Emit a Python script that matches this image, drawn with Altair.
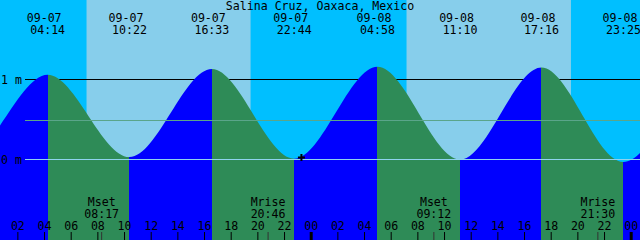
import altair as alt
import pandas as pd

TITLE = "Salina Cruz, Oaxaca, Mexico"

# Tide extremes (the first two and last two are estimated, outside the shown window)
TIDE_DATES = ["09-06", "09-06", "09-07", "09-07", "09-07", "09-07", "09-08", "09-08", "09-08", "09-08", "09-09", "09-09"]
TIDE_TIMES = ["15:50", "22:08", "04:14", "10:22", "16:33", "22:44", "04:58", "11:10", "17:16", "23:25", "05:55", "12:05"]
TIDE_HEIGHTS = [1.05, 0.05, 1.06, 0.03, 1.13, 0.01, 1.16, 0.00, 1.15, -0.03, 1.12, 0.00]
TIDE_LABELED = [False, False, True, True, True, True, True, True, True, True, False, False]

SUN_DATES = ["09-07", "09-07", "09-08", "09-08"]
SUN_TIMES = ["07:09", "19:28", "07:09", "19:29"]

MOON_DATES = ["09-07", "09-07", "09-08", "09-08"]
MOON_TIMES = ["08:17", "20:46", "09:12", "21:30"]
MOON_NAMES = ["Mset", "Mrise", "Mset", "Mrise"]

HOUR_TICKS = [2, 4, 6, 8, 10, 12, 14, 16, 18, 20, 22, 24,
              26, 28, 30, 32, 34, 36, 38, 40, 42, 44, 46, 48]
HOUR_LABELS = ["02", "04", "06", "08", "10", "12", "14", "16", "18", "20", "22", "00",
               "02", "04", "06", "08", "10", "12", "14", "16", "18", "20", "22", "00"]
MIDNIGHTS = [24, 48]

Y_LABEL_VALUES = [1, 0]
Y_LABEL_TEXTS = ["1 m", "0 m"]
MEAN_LEVEL = 0.4875

NOW_DATE, NOW_TIME, NOW_HEIGHT = "09-07", "23:16", 0.025

X_DOMAIN = [0.66, 48.66]          # hours since 09-07 00:00
Y_DOMAIN = [-1.00625, 1.99375]    # metres

NIGHT, DAY = "#00BFFF", "#87CEEB"
RISE, FALL = "#0000FF", "#2E8B57"
FONT, FS = "DejaVu Sans Mono", 11.6


def hours(d, t):
    day = int(d[3:]) - 7
    hh, mm = t.split(":")
    return day * 24 + int(hh) + int(mm) / 60


tide_t = [hours(d, t) for d, t in zip(TIDE_DATES, TIDE_TIMES)]
tide = pd.DataFrame({"t": tide_t, "h": TIDE_HEIGHTS, "date": TIDE_DATES, "time": TIDE_TIMES,
                     "base": [Y_DOMAIN[0]] * len(tide_t)})
tide_lab = tide[pd.Series(TIDE_LABELED)].reset_index(drop=True)

sun_t = [hours(d, t) for d, t in zip(SUN_DATES, SUN_TIMES)]
edges = [tide_t[0]] + sun_t + [tide_t[-1]]
sky = pd.DataFrame({"t": edges[:-1], "t2": edges[1:],
                    "kind": ["night", "day", "night", "day", "night"]})

moon = pd.DataFrame({"t": [hours(d, t) for d, t in zip(MOON_DATES, MOON_TIMES)],
                     "name": MOON_NAMES, "time": MOON_TIMES})
ticks = pd.DataFrame({"t": HOUR_TICKS, "lab": HOUR_LABELS})
mid = pd.DataFrame({"t": MIDNIGHTS})
ylab = pd.DataFrame({"v": Y_LABEL_VALUES, "txt": Y_LABEL_TEXTS})
now = pd.DataFrame({"t": [hours(NOW_DATE, NOW_TIME)], "h": [NOW_HEIGHT]})

# hard-stop gradient: rising = blue, falling = green
span = tide_t[-1] - tide_t[0]
first = RISE if TIDE_HEIGHTS[1] > TIDE_HEIGHTS[0] else FALL
stops = [alt.GradientStop(offset=0.0, color=first)]
for i in range(1, len(tide_t) - 1):
    off = float((tide_t[i] - tide_t[0]) / span)
    before = RISE if TIDE_HEIGHTS[i] > TIDE_HEIGHTS[i - 1] else FALL
    after = FALL if before == RISE else RISE
    stops.append(alt.GradientStop(offset=off, color=before))
    stops.append(alt.GradientStop(offset=off, color=after))
last = RISE if TIDE_HEIGHTS[-1] > TIDE_HEIGHTS[-2] else FALL
stops.append(alt.GradientStop(offset=1.0, color=last))
grad = alt.LinearGradient(gradient="linear", stops=stops, x1=0, y1=0, x2=1, y2=0)

XS = alt.Scale(domain=X_DOMAIN, nice=False, zero=False)
YS = alt.Scale(domain=Y_DOMAIN, nice=False, zero=False)


def X(f):
    return alt.X(f, type="quantitative", scale=XS, axis=None)


def Y(f):
    return alt.Y(f, type="quantitative", scale=YS, axis=None)


sky_l = alt.Chart(sky).mark_rect(clip=True).encode(
    x=X("t"), x2=alt.X2("t2"), y=alt.value(0), y2=alt.value(240),
    color=alt.Color("kind:N", scale=alt.Scale(domain=["night", "day"], range=[NIGHT, DAY]), legend=None),
)

one_line = alt.Chart(pd.DataFrame({"v": [1]})).mark_rule(color="black", strokeWidth=1).encode(
    x=alt.value(25), x2=alt.value(640), y=Y("v"))

water = alt.Chart(tide).mark_area(interpolate="monotone", clip=True, fill=grad, opacity=1).encode(
    x=X("t"), y=Y("h"), y2=alt.Y2("base"))

mean_line = alt.Chart(pd.DataFrame({"v": [MEAN_LEVEL]})).mark_rule(color="#5AA58A", strokeWidth=1).encode(
    x=alt.value(25), x2=alt.value(640), y=Y("v"))
zero_line = alt.Chart(pd.DataFrame({"v": [0]})).mark_rule(color="#8FD3EE", strokeWidth=1).encode(
    x=alt.value(25), x2=alt.value(640), y=Y("v"))

hour_ticks = alt.Chart(ticks).mark_rule(color="black", strokeWidth=1).encode(
    x=X("t"), y=alt.value(232), y2=alt.value(240))
mid_ticks = alt.Chart(mid).mark_rule(color="black", strokeWidth=3).encode(
    x=X("t"), y=alt.value(232), y2=alt.value(240))
moon_ticks = alt.Chart(moon).mark_rule(color="#333333", strokeWidth=1).encode(
    x=X("t"), y=alt.value(232), y2=alt.value(240))

txt = dict(font=FONT, fontSize=FS, color="black", baseline="alphabetic", align="center")

title_l = alt.Chart(pd.DataFrame({"s": [TITLE]})).mark_text(**txt).encode(
    x=alt.value(320), y=alt.value(9.5), text="s:N")
date_l = alt.Chart(tide_lab).mark_text(dx=-3.5, **txt).encode(
    x=X("t"), y=alt.value(21.5), text="date:N")
time_l = alt.Chart(tide_lab).mark_text(**txt).encode(
    x=X("t"), y=alt.value(33.5), text="time:N")
moon_n = alt.Chart(moon).mark_text(**txt).encode(
    x=X("t"), y=alt.value(206), text="name:N")
moon_t = alt.Chart(moon).mark_text(**txt).encode(
    x=X("t"), y=alt.value(217.7), text="time:N")
hour_l = alt.Chart(ticks).mark_text(**txt).encode(
    x=X("t"), y=alt.value(230), text="lab:N")
ylab_l = alt.Chart(ylab).mark_text(font=FONT, fontSize=FS, color="black",
                                   baseline="alphabetic", align="left", dy=4).encode(
    x=alt.value(1), y=Y("v"), text="txt:N")

now_l = alt.Chart(now).mark_point(shape="M-1,0L1,0M0,-1L0,1", size=49, color="black",
                                  strokeWidth=2, filled=False, opacity=1).encode(
    x=X("t"), y=Y("h"))

chart = alt.layer(
    sky_l, one_line, water, mean_line, zero_line,
    hour_ticks, mid_ticks, moon_ticks,
    title_l, date_l, time_l, moon_n, moon_t, hour_l, ylab_l, now_l,
).properties(
    width=640, height=240,
    autosize=alt.AutoSizeParams(type="none"),
    background=NIGHT,
).configure(padding=0).configure_view(stroke="transparent", strokeWidth=0)

chart.save("out.html", embed_options={"renderer": "svg", "actions": False})
